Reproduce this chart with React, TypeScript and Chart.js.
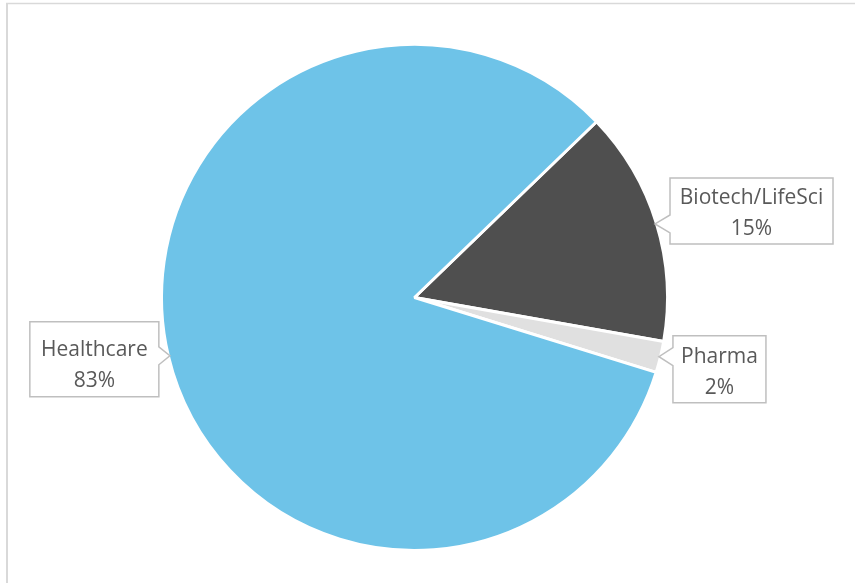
import React, { useEffect, useRef } from "react";
import { Chart, registerables } from "chart.js";

Chart.register(...registerables);

// ---- data ----
const categories = ["Biotech/LifeSci", "Pharma", "Healthcare"];
const shares = [15, 2, 83];
const sliceColors = ["#4F4F4F", "#E0E0E0", "#6EC3E8"];
const startAngleDeg = 46;

// ---- callout layout (relative to slice tip) ----
const calloutLayout = [
  { side: "right", dx: 15, dy: -46, w: 163, h: 66, pad: 19 },
  { side: "right", dx: 14, dy: -21, w: 93, h: 67, pad: 20 },
  { side: "left", dx: -11, dy: -34, w: 129, h: 75, pad: 27 },
];

const FONT = "21px 'Open Sans'";
const TEXT_COLOR = "#595959";

const framePlugin = {
  id: "frame",
  beforeDraw(chart: any) {
    const ctx = chart.ctx;
    ctx.save();
    ctx.fillStyle = "#ffffff";
    ctx.fillRect(0, 0, chart.width, chart.height);
    ctx.strokeStyle = "#D9D9D9";
    ctx.lineWidth = 1.5;
    ctx.beginPath();
    ctx.moveTo(6, 3.5);
    ctx.lineTo(chart.width, 3.5);
    ctx.stroke();
    ctx.lineWidth = 2;
    ctx.beginPath();
    ctx.moveTo(7, 3);
    ctx.lineTo(7, chart.height);
    ctx.stroke();
    ctx.restore();
  },
};

const calloutPlugin = {
  id: "callouts",
  afterDraw(chart: any) {
    const ctx = chart.ctx;
    const meta = chart.getDatasetMeta(0);
    const data = chart.data.datasets[0].data;
    meta.data.forEach((arc: any, i: number) => {
      const p = arc.getProps(["x", "y", "startAngle", "endAngle", "outerRadius"], true);
      const mid = (p.startAngle + p.endAngle) / 2;
      const R = p.outerRadius - 1.5;
      const tx = p.x + Math.cos(mid) * R;
      const ty = p.y + Math.sin(mid) * R;
      const L = calloutLayout[i];
      const top = ty + L.dy;
      const bot = top + L.h;
      const by = Math.min(Math.max(ty, top + 10), bot - 10);
      let left: number, right: number;
      ctx.save();
      ctx.beginPath();
      if (L.side === "right") {
        left = tx + L.dx;
        right = left + L.w;
        ctx.moveTo(left, top);
        ctx.lineTo(right, top);
        ctx.lineTo(right, bot);
        ctx.lineTo(left, bot);
        ctx.lineTo(left, by + 9);
        ctx.lineTo(tx, ty);
        ctx.lineTo(left, by - 9);
        ctx.closePath();
      } else {
        right = tx + L.dx;
        left = right - L.w;
        ctx.moveTo(left, top);
        ctx.lineTo(right, top);
        ctx.lineTo(right, by - 9);
        ctx.lineTo(tx, ty);
        ctx.lineTo(right, by + 9);
        ctx.lineTo(right, bot);
        ctx.lineTo(left, bot);
        ctx.closePath();
      }
      ctx.fillStyle = "#ffffff";
      ctx.fill();
      ctx.strokeStyle = "#BFBFBF";
      ctx.lineWidth = 1.5;
      ctx.stroke();
      ctx.fillStyle = TEXT_COLOR;
      ctx.font = FONT;
      ctx.textAlign = "center";
      ctx.textBaseline = "alphabetic";
      const cx = (left + right) / 2;
      ctx.fillText(chart.data.labels[i], cx, top + L.pad + 7.5);
      ctx.fillText(`${data[i]}%`, cx, top + L.pad + 31 + 7.5);
      ctx.restore();
    });
  },
};

export default function App() {
  const ref = useRef<HTMLCanvasElement | null>(null);
  useEffect(() => {
    if (!ref.current) return;
    const chart = new Chart(ref.current, {
      type: "pie",
      data: {
        labels: categories,
        datasets: [
          {
            data: shares,
            backgroundColor: sliceColors,
            borderColor: "#ffffff",
            borderWidth: 3,
          },
        ],
      },
      options: {
        responsive: false,
        animation: false,
        rotation: startAngleDeg,
        radius: 253,
        layout: { padding: { left: 0, right: 26, top: 12, bottom: 0 } },
        plugins: {
          legend: { display: false },
          tooltip: { enabled: false },
        },
      },
      plugins: [framePlugin, calloutPlugin],
    });
    return () => chart.destroy();
  }, []);
  return (
    <div style={{ position: "fixed", left: 0, top: 0, width: 855, height: 583 }}>
      <canvas ref={ref} width={855} height={583} />
    </div>
  );
}
